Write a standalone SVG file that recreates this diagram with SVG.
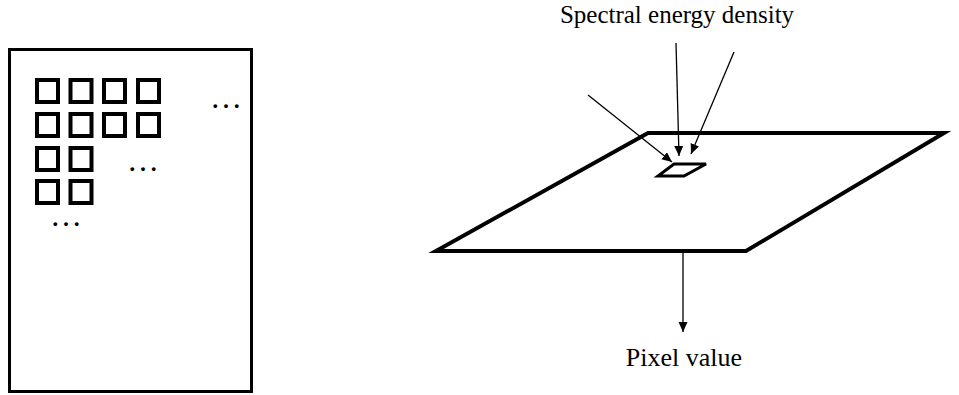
<svg xmlns="http://www.w3.org/2000/svg" width="959" height="395" viewBox="0 0 959 395">
<defs>
<style>
.t{font-family:"Liberation Serif","Times New Roman",serif;fill:#000}
.sq{fill:none;stroke:#000;stroke-width:4}
.thick{fill:none;stroke:#000;stroke-width:4;stroke-linejoin:miter}
.arr{fill:none;stroke:#000;stroke-width:1.3;marker-end:url(#ah)}
</style>
<marker id="ah" markerUnits="userSpaceOnUse" markerWidth="12" markerHeight="10" refX="10" refY="4.5" orient="auto">
<path d="M0,0 L10,4.5 L0,9 Z" fill="#000"/>
</marker>
</defs>
<g id="grid-frame">
<rect x="9.5" y="49.5" width="242" height="342" fill="#fff" stroke="#000" stroke-width="3"/>
<g id="cells">
<rect class="sq" x="37" y="80" width="21" height="22"/>
<rect class="sq" x="70.5" y="80" width="21" height="22"/>
<rect class="sq" x="104" y="80" width="21" height="22"/>
<rect class="sq" x="138" y="80" width="21" height="22"/>
<rect class="sq" x="37" y="114" width="21" height="22"/>
<rect class="sq" x="70.5" y="114" width="21" height="22"/>
<rect class="sq" x="104" y="114" width="21" height="22"/>
<rect class="sq" x="138" y="114" width="21" height="22"/>
<rect class="sq" x="37" y="148" width="21" height="22"/>
<rect class="sq" x="70.5" y="148" width="21" height="22"/>
<rect class="sq" x="37" y="181" width="21" height="22"/>
<rect class="sq" x="70.5" y="181" width="21" height="22"/>
</g>
<text class="t" x="210" y="108" font-size="32">…</text>
<text class="t" x="127" y="171" font-size="32">…</text>
<text class="t" x="50" y="226" font-size="32">…</text>
</g>
<g id="sensor">
<polygon class="thick" points="648,133 944,133 746,251 436,251"/>
</g>
<g id="pixel">
<polygon fill="#fff" stroke="#000" stroke-width="3" points="674,164 706,164 684,176 658,176"/>
</g>
<g id="connectors">
<line class="arr" x1="588" y1="95" x2="672" y2="162"/>
<line class="arr" x1="676" y1="43" x2="679" y2="156"/>
<line class="arr" x1="734" y1="52" x2="691" y2="154"/>
<line class="arr" x1="683" y1="253" x2="683" y2="332"/>
</g>
<g id="labels">
<text class="t" x="677" y="23" font-size="25" text-anchor="middle">Spectral energy density</text>
<text class="t" x="684" y="366" font-size="26" text-anchor="middle">Pixel value</text>
</g>
</svg>
